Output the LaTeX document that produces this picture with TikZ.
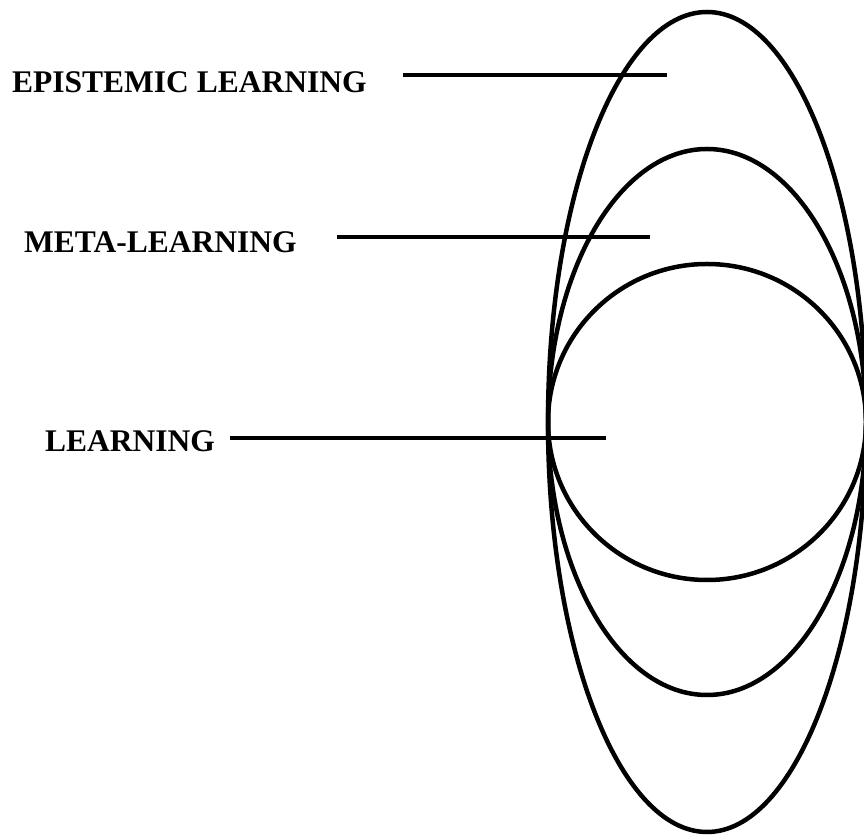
\documentclass[tikz,border=0pt]{standalone}
\usepackage{fontspec}
\setmainfont{Liberation Serif}
\begin{document}
\begin{tikzpicture}[x=1pt,y=1pt,
  ring/.style={line width=4.5pt},
  leader/.style={line width=4.5pt},
  lbl/.style={font=\fontsize{31.5}{34}\selectfont\bfseries, inner sep=0pt, anchor=west}]
\useasboundingbox (0,0) rectangle (864,835);
\begin{scope}
\clip (0,0) rectangle (864,835);
\draw[ring] (707,413) ellipse [x radius=159, y radius=410];
\draw[ring] (707,413) ellipse [x radius=159, y radius=273];
\draw[ring] (707,413) ellipse [x radius=159, y radius=158];
\end{scope}
\node[lbl] (epi) at (12,753) {EPISTEMIC LEARNING};
\node[lbl] (meta) at (24,593) {META-LEARNING};
\node[lbl] (learn) at (45,394) {LEARNING};
\coordinate (epiS) at (403,760);
\coordinate (epiE) at (667,760);
\coordinate (metaS) at (337,598);
\coordinate (metaE) at (650,598);
\coordinate (learnS) at (230,397);
\coordinate (learnE) at (606,397);
\draw[leader] (epiS) -- (epiE);
\draw[leader] (metaS) -- (metaE);
\draw[leader] (learnS) -- (learnE);
\end{tikzpicture}
\end{document}
